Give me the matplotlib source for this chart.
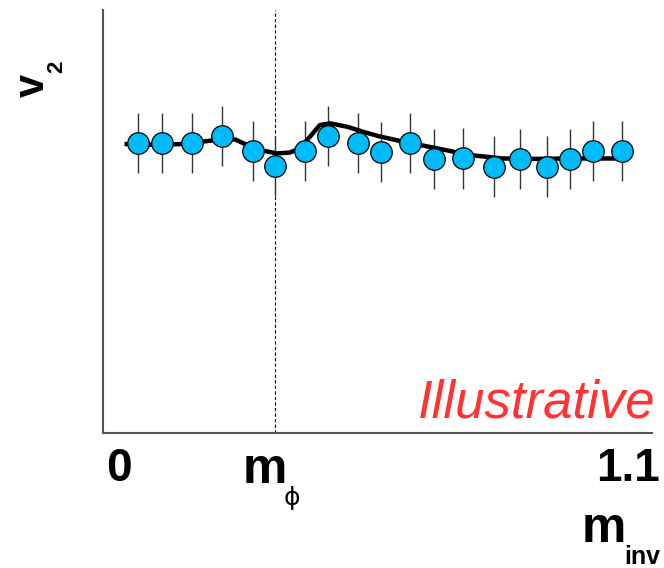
import matplotlib
matplotlib.use("Agg")
import matplotlib.pyplot as plt

# measured points (arbitrary units, x in the same units as the "0 ... 1.1" axis)
mass = [0.043, 0.095, 0.160, 0.225, 0.292, 0.341, 0.406, 0.456, 0.520, 0.571,
        0.634, 0.685, 0.748, 0.816, 0.872, 0.931, 0.981, 1.031, 1.094]
v2 = [0.685, 0.685, 0.685, 0.702, 0.667, 0.631, 0.667, 0.702, 0.685, 0.665,
      0.685, 0.647, 0.649, 0.630, 0.648, 0.630, 0.648, 0.667, 0.667]
v2_err = [0.071] * len(v2)

# fit curve
fit_mass = [0.019, 0.091, 0.135, 0.178, 0.221, 0.254, 0.280, 0.308, 0.345, 0.373,
            0.395, 0.417, 0.438, 0.460, 0.497, 0.532, 0.568, 0.618, 0.692, 0.764,
            0.835, 0.909, 0.981, 1.096]
fit_v2 = [0.683, 0.681, 0.683, 0.688, 0.694, 0.694, 0.681, 0.669, 0.661, 0.663,
          0.673, 0.701, 0.728, 0.732, 0.724, 0.712, 0.701, 0.689, 0.673, 0.657,
          0.649, 0.648, 0.649, 0.649]

m_phi = 0.341

W, H = 664, 568
fig = plt.figure(figsize=(W / 100, H / 100), dpi=100)
ax = fig.add_axes([103 / W, 1 - 433 / H, 549 / W, 423 / H])

ax.errorbar(mass, v2, yerr=v2_err, fmt="none", ecolor="#333333", elinewidth=1.0,
            capsize=0, zorder=2)
ax.plot(fit_mass, fit_v2, color="black", lw=3.2, zorder=3)
ax.plot(mass, v2, "o", ms=15.5, mfc="#00bbf9", mec="black", mew=0.9, zorder=4)
ax.axvline(m_phi, color="black", lw=0.8, ls=(0, (3, 2)), zorder=1)

ax.set_xlim(-0.0325, 1.1586)
ax.set_ylim(0, 1)
ax.set_xticks([])
ax.set_yticks([])
for s in ["top", "right"]:
    ax.spines[s].set_visible(False)
for s in ["left", "bottom"]:
    ax.spines[s].set_color("#555555")
    ax.spines[s].set_linewidth(1.5)


def ftext(x, y, s, **kw):
    kw.setdefault("family", "Liberation Sans")
    fig.text(x / W, 1 - y / H, s, **kw)


ftext(656, 417, "Illustrative", ha="right", va="baseline", color="#ff3333",
      style="italic", fontsize=38)

bold = dict(fontsize=33, fontweight="bold", va="baseline")
ftext(119, 481, "0", ha="center", **bold)
ftext(628, 481, "1.1", ha="center", **bold)
ftext(265, 483, "m", ha="center", fontsize=36, fontweight="bold", va="baseline")
ftext(292, 505, "\u03d5", ha="center", va="baseline", fontsize=18, family="DejaVu Sans")
ftext(604, 542, "m", ha="center", fontsize=36, fontweight="bold", va="baseline")
ftext(624, 564, "inv", ha="left", va="baseline", fontsize=18, fontweight="bold")
ftext(33, 85, "v", ha="center", va="center", rotation=90, fontsize=30, fontweight="bold")
ftext(57, 67, "2", ha="center", va="center", rotation=90, fontsize=16, fontweight="bold")

fig.savefig("out.png", dpi=100)
